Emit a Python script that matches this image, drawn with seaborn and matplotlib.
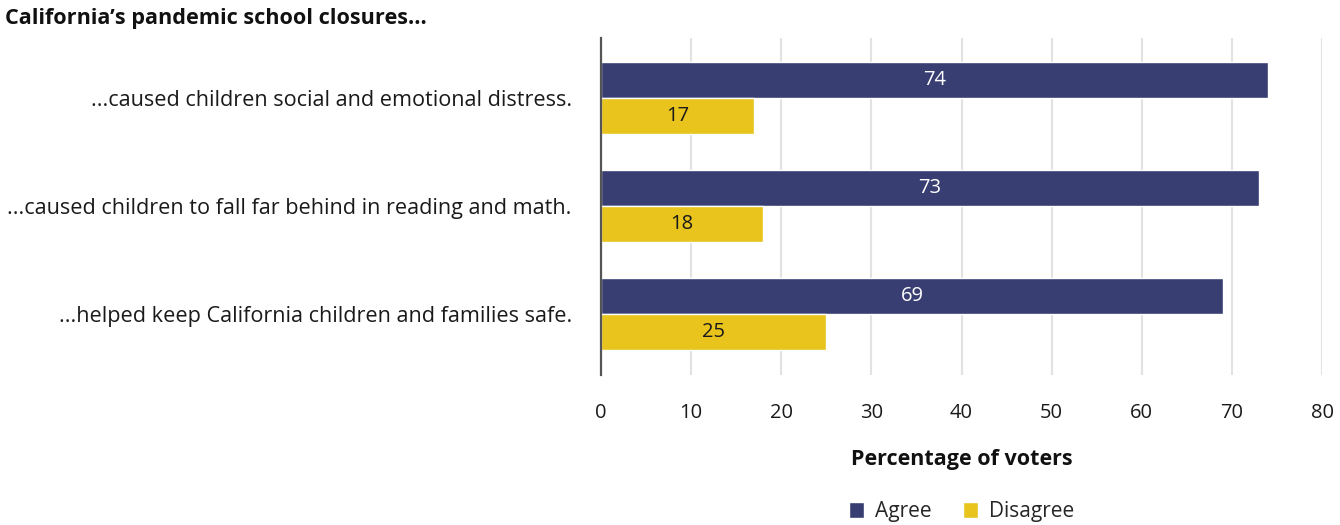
import matplotlib
matplotlib.use("Agg")
import matplotlib.pyplot as plt
import seaborn as sns
import pandas as pd
from matplotlib.patches import Patch

statements = [
    "...caused children social and emotional distress.",
    "...caused children to fall far behind in reading and math.",
    "...helped keep California children and families safe.",
]
agree = [74, 73, 69]
disagree = [17, 18, 25]
responses = ["Agree", "Disagree"]
colors = {"Agree": "#383d72", "Disagree": "#e8c41d"}
label_colors = {"Agree": "white", "Disagree": "#1a1a1a"}

df = pd.DataFrame({
    "statement": statements * 2,
    "response": ["Agree"] * 3 + ["Disagree"] * 3,
    "value": agree + disagree,
})

sns.set_theme(style="white")
plt.rcParams["font.family"] = ["Open Sans", "DejaVu Sans"]

fig = plt.figure(figsize=(13.4, 5.25), dpi=100)
ax = fig.add_axes([0.4485, 0.2857, 0.9866 - 0.4485, 0.9276 - 0.2857])

sns.barplot(data=df, y="statement", x="value", hue="response",
            order=statements, hue_order=responses, palette=colors,
            orient="h", width=0.667, dodge=True, saturation=1,
            legend=False, ax=ax)

for container, resp in zip(ax.containers, responses):
    ax.bar_label(container, labels=[f"{v:g}" for v in container.datavalues],
                 label_type="center", color=label_colors[resp], fontsize=14.5)

ax.set_xlim(0, 80)
ax.set_ylim(2.565, -0.556)
ax.set_xticks(range(0, 81, 10))
ax.grid(axis="x", color="#e2e2e2", linewidth=1.5)
ax.grid(axis="y", visible=False)
ax.set_axisbelow(True)
for s in ["top", "right", "bottom"]:
    ax.spines[s].set_visible(False)
ax.spines["left"].set_color("#555555")
ax.spines["left"].set_linewidth(1.6)
ax.tick_params(axis="x", length=0, pad=20, labelsize=14.5, labelcolor="#1a1a1a")
ax.tick_params(axis="y", length=0, pad=21, labelsize=15.6, labelcolor="#1a1a1a")
ax.set_ylabel("")
ax.set_xlabel("Percentage of voters", fontsize=15.5, fontweight="bold",
              color="#111111", labelpad=19)

fig.text(0.004, 0.965, "California\u2019s pandemic school closures...",
         fontsize=15.6, fontweight="bold", color="#111111", va="center", ha="left")

handles = [Patch(facecolor=colors[r], label=r) for r in responses]
fig.legend(handles=handles, loc="center", bbox_to_anchor=(0.7175, 0.025),
           ncol=2, frameon=False, fontsize=15, handlelength=0.75,
           handleheight=0.75, handletextpad=0.5, columnspacing=1.5)

fig.savefig("out.png", dpi=100)
